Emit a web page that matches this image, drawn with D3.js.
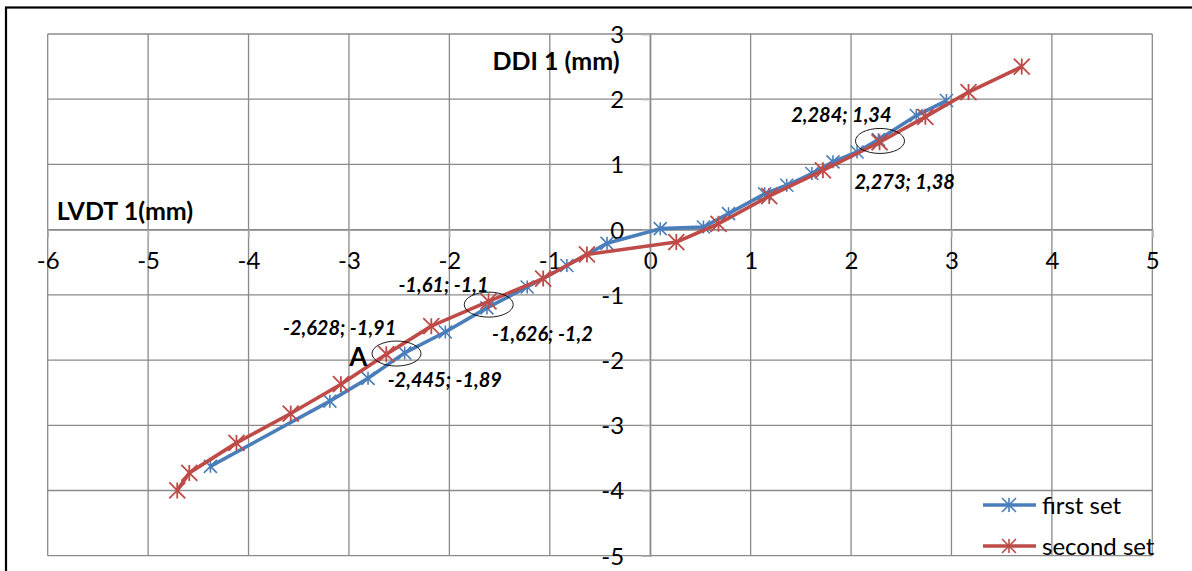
<!DOCTYPE html>
<html>
<head>
<meta charset="utf-8">
<script src="https://cdn.jsdelivr.net/npm/d3@7"></script>
<style>
  html, body { margin: 0; padding: 0; background: #fff; }
  svg { display: block; font-family: Lato, "Open Sans", sans-serif; }
</style>
</head>
<body>
<svg id="chart" width="1192" height="571"></svg>
<script>
// LVDT 1 (x) versus DDI 1 (y) displacement readings, in mm
const firstSetX  = [-4.38, -3.19, -2.81, -2.445, -2.04, -1.626, -1.225, -0.83, -0.43, 0.10, 0.53, 0.78, 1.14, 1.36, 1.61, 1.82, 2.06, 2.273, 2.65, 2.95];
const firstSetY  = [-3.63, -2.63, -2.28, -1.89, -1.57, -1.2, -0.88, -0.55, -0.21, 0.015, 0.04, 0.245, 0.55, 0.68, 0.86, 1.04, 1.19, 1.38, 1.75, 1.98];
const secondSetX = [-4.71, -4.59, -4.12, -3.58, -3.08, -2.628, -2.18, -1.61, -1.066, -0.63, 0.26, 0.68, 1.185, 1.72, 2.284, 2.74, 3.17, 3.70];
const secondSetY = [-4.0, -3.73, -3.27, -2.82, -2.37, -1.91, -1.48, -1.1, -0.75, -0.38, -0.19, 0.09, 0.515, 0.91, 1.34, 1.73, 2.11, 2.50];

const seriesNames = ["first set", "second set"];
const xTicks = [-6, -5, -4, -3, -2, -1, 0, 1, 2, 3, 4, 5];
const yTicks = [-5, -4, -3, -2, -1, 0, 1, 2, 3];

// indices of the highlighted point pairs (first set, second set)
const markedPairs = [[17, 14], [5, 7], [3, 5]];

const colors = ["#4a7ebb", "#be4b48"];
const grid = "#8a8a8a";

const svg = d3.select("#chart");

const x = d3.scaleLinear().domain([-6, 5]).range([47.7, 1152.3]);
const y = d3.scaleLinear().domain([-5, 3]).range([555.7, 34]);

// outer chart frame
svg.append("rect")
  .attr("x", 6).attr("y", 7.5).attr("width", 1200).attr("height", 600)
  .attr("fill", "none").attr("stroke", "#000").attr("stroke-width", 2.2);

// gridlines
const g = svg.append("g");
g.selectAll("line.v").data(xTicks).join("line")
  .attr("x1", d => x(d)).attr("x2", d => x(d))
  .attr("y1", y(-5)).attr("y2", y(3))
  .attr("stroke", grid).attr("stroke-width", 1.3);
g.selectAll("line.h").data(yTicks).join("line")
  .attr("y1", d => y(d)).attr("y2", d => y(d))
  .attr("x1", x(-6)).attr("x2", x(5))
  .attr("stroke", grid).attr("stroke-width", 1.3);

// axes crossing at the origin
const xAxis = d3.axisBottom(x).tickValues(xTicks).tickFormat(d => String(d)).tickSize(8).tickPadding(22);
const yAxis = d3.axisLeft(y).tickValues(yTicks).tickFormat(d => String(d)).tickSize(8).tickPadding(18);

const gx = svg.append("g").attr("transform", `translate(0,${y(0)})`).call(xAxis);
const gy = svg.append("g").attr("transform", `translate(${x(0)},0)`).call(yAxis);
[gx, gy].forEach(a => {
  a.select(".domain").attr("stroke", grid).attr("stroke-width", 1.3);
  a.selectAll(".tick line").attr("stroke", "#b5b5b5").attr("stroke-width", 1.3);
  a.selectAll(".tick text").attr("fill", "#000").attr("font-size", 24)
    .attr("font-family", "Lato, sans-serif");
});
gx.selectAll(".tick text").attr("dy", "0.38em").attr("y", 30);
gy.selectAll(".tick text").attr("x", -26).attr("dy", "0.35em");

// axis titles
svg.append("text").attr("x", 556).attr("y", 61).attr("text-anchor", "middle")
  .attr("dy", "0.35em").attr("font-weight", "bold").attr("font-size", 25).text("DDI 1 (mm)");
svg.append("text").attr("x", 125).attr("y", 211).attr("text-anchor", "middle")
  .attr("dy", "0.35em").attr("font-weight", "bold").attr("font-size", 25).text("LVDT 1(mm)");

// series
const series = [
  firstSetX.map((v, i) => ({ x: v, y: firstSetY[i] })),
  secondSetX.map((v, i) => ({ x: v, y: secondSetY[i] }))
];
const line = d3.line().x(d => x(d.x)).y(d => y(d.y));
const star = r => `M0,${-r}L0,${r}M${-r},${-r}L${r},${r}M${-r},${r}L${r},${-r}`;
const markerR = [6.5, 8];
const markerW = [1.6, 1.8];

series.forEach((pts, s) => {
  svg.append("path").datum(pts).attr("d", line)
    .attr("fill", "none").attr("stroke", colors[s]).attr("stroke-width", 3.6)
    .attr("stroke-linejoin", "round");
  svg.append("g").selectAll("path").data(pts).join("path")
    .attr("transform", d => `translate(${x(d.x)},${y(d.y)})`)
    .attr("d", star(markerR[s]))
    .attr("stroke", colors[s]).attr("stroke-width", markerW[s]).attr("fill", "none");
});

// highlighted pairs: ellipse and value labels
const fmt = v => String(v).replace(".", ",");
const labelOffsets = [
  // [first set: dx, dy, anchor], [second set: dx, dy, anchor]
  [[-24, 42, "start"], [12, -27, "end"]],
  [[5, 26, "start"], [0, -16, "end"]],
  [[-17, 27, "start"], [10, -26, "end"]]
];
markedPairs.forEach(([i1, i2], k) => {
  const p1 = series[0][i1], p2 = series[1][i2];
  const cx = (x(p1.x) + x(p2.x)) / 2, cy = (y(p1.y) + y(p2.y)) / 2;
  svg.append("ellipse").attr("cx", cx + 1).attr("cy", cy).attr("rx", 24.5).attr("ry", 12.5)
    .attr("fill", "none").attr("stroke", "#000").attr("stroke-width", 0.9);
  [p1, p2].forEach((p, s) => {
    const [dx, dy, anchor] = labelOffsets[k][s];
    svg.append("text")
      .attr("x", x(p.x) + dx).attr("y", y(p.y) + dy).attr("dy", "0.35em")
      .attr("text-anchor", anchor)
      .attr("font-weight", "bold").attr("font-style", "italic").attr("font-size", 20)
      .text(`${fmt(p.x)}; ${fmt(p.y)}`);
  });
});

// point A (second set, lower pair)
const pA = series[1][markedPairs[2][1]];
svg.append("text").attr("x", x(pA.x) - 19).attr("y", y(pA.y) + 3).attr("dy", "0.35em")
  .attr("text-anchor", "end").attr("font-weight", "bold").attr("font-size", 26).text("A");

// legend
const legend = svg.append("g");
[505, 546].forEach((ly, s) => {
  legend.append("line").attr("x1", 983).attr("x2", 1036).attr("y1", ly).attr("y2", ly)
    .attr("stroke", colors[s]).attr("stroke-width", 3.6);
  legend.append("path").attr("transform", `translate(1009,${ly})`).attr("d", star(7))
    .attr("stroke", colors[s]).attr("stroke-width", 1.6).attr("fill", "none");
  legend.append("text").attr("x", 1042).attr("y", ly + 1).attr("dy", "0.35em")
    .attr("font-size", 24).text(seriesNames[s]);
});
</script>
</body>
</html>
